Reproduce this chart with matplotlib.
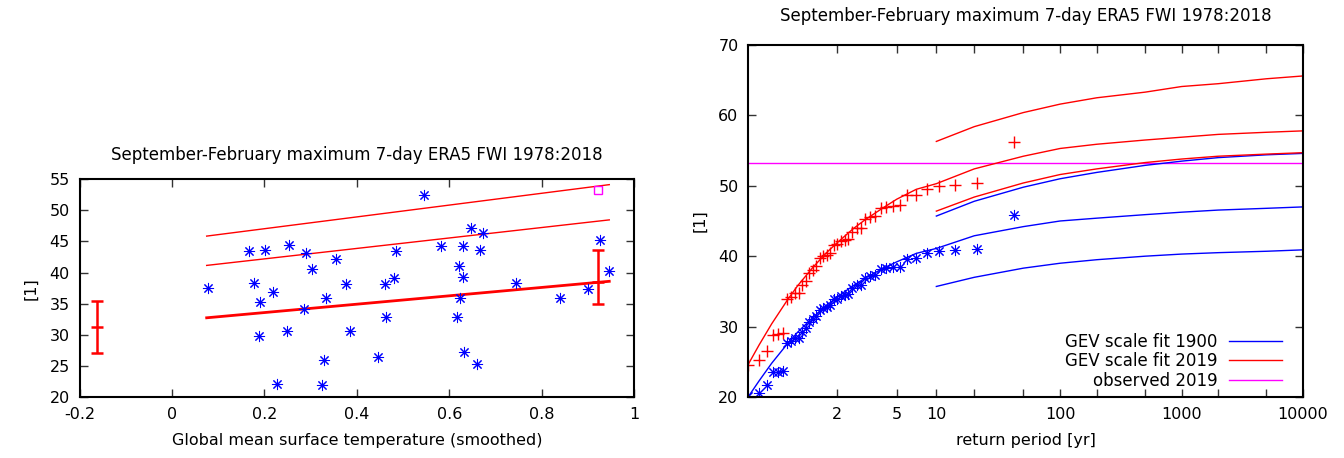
import numpy as np
import matplotlib
matplotlib.use("Agg")
import matplotlib.pyplot as plt

plt.rcParams['font.family'] = ['DejaVu Sans']
plt.rcParams['font.size'] = 11.5

title = "September-February maximum 7-day ERA5 FWI 1978:2018"

# left panel: FWI against smoothed GMST
gmst = [0.077, 0.166, 0.178, 0.188, 0.191, 0.202, 0.219, 0.228, 0.248, 0.254,
        0.286, 0.290, 0.302, 0.325, 0.328, 0.334, 0.354, 0.376, 0.386, 0.445,
        0.461, 0.464, 0.481, 0.485, 0.545, 0.581, 0.617, 0.620, 0.624, 0.630,
        0.630, 0.631, 0.646, 0.659, 0.666, 0.672, 0.745, 0.839, 0.900, 0.926, 0.946]
fwi = [37.6, 43.5, 38.3, 29.8, 35.3, 43.6, 36.9, 22.2, 30.6, 44.4,
       34.2, 43.2, 40.6, 22.0, 26.0, 35.9, 42.2, 38.2, 30.7, 26.4,
       38.2, 32.9, 39.1, 43.4, 52.4, 44.3, 32.8, 41.1, 36.0, 44.3,
       39.3, 27.3, 47.1, 25.3, 43.6, 46.4, 38.4, 35.9, 37.4, 45.3, 40.3]

cov_range = [0.075, 0.946]
mu_line = [32.75, 38.6]
rl6_line = [41.15, 48.45]
rl40_line = [45.85, 54.1]

err_x = [-0.162, 0.922]
err_mid = [31.3, 38.5]
err_lo = [27.05, 35.0]
err_hi = [35.5, 43.7]

obs_x = [0.922]
obs_y = [53.3]

# right panel: return level plot
ret_period = [1.024, 1.05, 1.077, 1.105, 1.135, 1.167, 1.2, 1.235, 1.273, 1.3125,
              1.355, 1.4, 1.448, 1.5, 1.556, 1.615, 1.68, 1.75, 1.826, 1.909,
              2.0, 2.1, 2.211, 2.333, 2.471, 2.625, 2.8, 3.0, 3.231, 3.5,
              3.818, 4.2, 4.667, 5.25, 6.0, 7.0, 8.4, 10.5, 14.0, 21.0, 42.0]
fwi_1900 = [20.08, 20.63, 21.68, 23.52, 23.55, 23.71, 27.69, 27.90, 28.33, 28.33,
            29.25, 29.74, 30.63, 31.05, 31.44, 32.38, 32.70, 32.72, 33.03, 33.86,
            33.98, 34.35, 34.53, 34.65, 35.48, 35.93, 35.95, 36.92, 37.21, 37.31,
            38.17, 38.30, 38.43, 38.53, 39.67, 39.68, 40.46, 40.72, 40.90, 41.06, 45.88]
fwi_2019 = [24.61, 25.29, 26.58, 28.83, 28.88, 29.07, 33.95, 34.21, 34.73, 34.73,
            35.86, 36.46, 37.55, 38.07, 38.54, 39.70, 40.09, 40.11, 40.50, 41.52,
            41.66, 42.11, 42.33, 42.48, 43.50, 44.05, 44.07, 45.26, 45.62, 45.75,
            46.80, 46.95, 47.11, 47.23, 48.63, 48.65, 49.61, 49.92, 50.14, 50.34, 56.25]

fit_T = [1.024, 1.05, 1.1, 1.2, 1.3, 1.5, 1.75, 2, 2.5, 3, 4, 5, 7,
         10, 20, 50, 100, 200, 500, 1000, 2000, 5000, 10000]
fit_1900 = [20.0, 22.3, 24.8, 27.5, 29.2, 31.3, 33.0, 34.2, 35.8, 36.9, 38.3, 39.2, 40.4,
            41.1, 42.9, 44.2, 45.0, 45.4, 45.9, 46.25, 46.55, 46.8, 47.0]
fit_2019 = [24.6, 27.4, 30.4, 33.7, 35.8, 38.4, 40.5, 41.9, 43.9, 45.2, 46.9, 48.1, 49.5,
            50.3, 52.4, 54.2, 55.3, 55.9, 56.5, 56.9, 57.3, 57.6, 57.8]

ci_T = [10, 20, 50, 100, 200, 500, 1000, 2000, 5000, 10000]
ci_1900_lo = [35.7, 37.0, 38.3, 39.0, 39.5, 40.0, 40.3, 40.5, 40.7, 40.9]
ci_1900_hi = [45.7, 47.8, 49.8, 51.0, 51.9, 52.9, 53.5, 54.0, 54.4, 54.6]
ci_2019_lo = [46.4, 48.4, 50.4, 51.6, 52.4, 53.3, 53.8, 54.2, 54.5, 54.7]
ci_2019_hi = [56.3, 58.4, 60.4, 61.6, 62.5, 63.3, 64.1, 64.5, 65.2, 65.6]

observed_2019 = 53.2


def gumbel(t):
    t = np.asarray(t, dtype=float)
    with np.errstate(all='ignore'):
        return -np.log(-np.log(1.0 - 1.0 / t))


def gumbel_inv(g):
    g = np.asarray(g, dtype=float)
    with np.errstate(all='ignore'):
        return 1.0 / (1.0 - np.exp(-np.exp(-g)))


star = (8, 2, 0)
blue = '#0000ff'
red = '#ff0000'
magenta = '#ff00ff'

fig = plt.figure(figsize=(13.44, 4.58), dpi=100)
ax1 = fig.add_axes([0.0592, 0.1325, 0.4127, 0.4766])
ax2 = fig.add_axes([0.5568, 0.1332, 0.4127, 0.7686])

# ---- left
ax1.plot(cov_range, rl40_line, color=red, lw=1.0)
ax1.plot(cov_range, rl6_line, color=red, lw=1.0)
ax1.plot(cov_range, mu_line, color=red, lw=2.0)
ax1.plot(gmst, fwi, linestyle='none', marker=star, ms=8, mew=0.75, color=blue)
for x, m, lo, hi in zip(err_x, err_mid, err_lo, err_hi):
    ax1.errorbar([x], [m], yerr=[[m - lo], [hi - m]], fmt='_', color=red,
                 ms=8, mew=1.8, elinewidth=1.8, capsize=4, capthick=1.8)
ax1.plot(obs_x, obs_y, linestyle='none', marker='s', ms=6, mfc='none',
         mec=magenta, mew=1.0)

ax1.set_xlim(-0.2, 1.0)
ax1.set_ylim(20, 55)
ax1.set_xticks([-0.2, 0, 0.2, 0.4, 0.6, 0.8, 1])
ax1.set_xticklabels(['-0.2', '0', '0.2', '0.4', '0.6', '0.8', '1'])
ax1.set_yticks(range(20, 56, 5))
ax1.set_xlabel('Global mean surface temperature (smoothed)', labelpad=8)
ax1.set_ylabel('[1]', labelpad=8)
ax1.set_title(title, fontsize=12, pad=14)

# ---- right
ax2.set_xscale('function', functions=(gumbel, gumbel_inv))
ax2.axhline(observed_2019, color=magenta, lw=1.0)
ax2.plot(fit_T, fit_1900, color=blue, lw=1.0, label='GEV scale fit 1900')
ax2.plot(fit_T, fit_2019, color=red, lw=1.0, label='GEV scale fit 2019')
ax2.plot(ci_T, ci_1900_lo, color=blue, lw=1.0)
ax2.plot(ci_T, ci_1900_hi, color=blue, lw=1.0)
ax2.plot(ci_T, ci_2019_lo, color=red, lw=1.0)
ax2.plot(ci_T, ci_2019_hi, color=red, lw=1.0)
ax2.plot(ret_period, fwi_1900, linestyle='none', marker=star, ms=8, mew=0.75, color=blue)
ax2.plot(ret_period, fwi_2019, linestyle='none', marker='+', ms=9, mew=1.0, color=red)

ax2.set_xlim(1.0244, 10000)
ax2.set_ylim(20, 70)
ax2.set_xticks([2, 5, 10, 100, 1000, 10000])
ax2.set_xticklabels(['2', '5', '10', '100', '1000', '10000'])
ax2.set_xticks([20, 50, 200, 500, 2000, 5000], minor=True)
ax2.set_xticklabels([], minor=True)
ax2.set_yticks(range(20, 71, 10))
ax2.set_xlabel('return period [yr]', labelpad=8)
ax2.set_ylabel('[1]', labelpad=8)
ax2.set_title(title, fontsize=12, pad=17)

h, l = ax2.get_legend_handles_labels()
h.append(plt.Line2D([], [], color=magenta, lw=1.0))
l.append('observed 2019')
ax2.legend(h, l, loc='lower right', bbox_to_anchor=(0.975, 0.002), fontsize=12,
           frameon=False, markerfirst=False, handlelength=3.2, labelspacing=0.08,
           borderaxespad=0.0, handletextpad=0.7)

for ax in (ax1, ax2):
    ax.tick_params(which='both', direction='in', top=True, right=True,
                   length=6, width=1.0, pad=7, color='#333333')
    for s in ax.spines.values():
        s.set_linewidth(1.5)

fig.savefig('out.png', dpi=100)
